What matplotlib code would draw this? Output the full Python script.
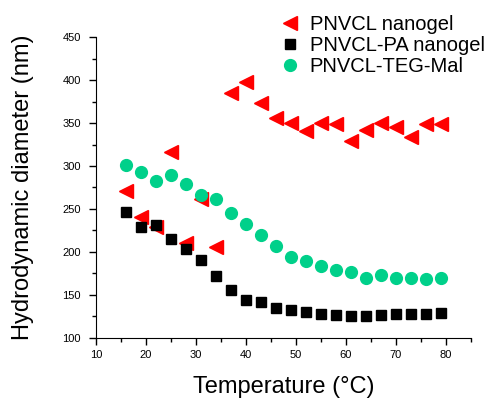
import matplotlib
matplotlib.use("Agg")
import matplotlib.pyplot as plt
from matplotlib.ticker import MultipleLocator

plt.rcParams['font.family'] = ['Liberation Sans', 'DejaVu Sans']

temperature = [16, 19, 22, 25, 28, 31, 34, 37, 40, 43, 46, 49, 52, 55, 58, 61, 64, 67, 70, 73, 76, 79]
pnvcl = [271, 241, 229, 316, 211, 262, 206, 385, 398, 373, 356, 350, 341, 350, 349, 329, 342, 350, 345, 334, 349, 349]
pnvcl_pa = [247, 229, 231, 215, 203, 191, 172, 156, 144, 142, 135, 132, 130, 128, 127, 126, 126, 127, 127.5, 127.5, 127.5, 129]
pnvcl_teg = [301, 293, 283, 289, 279, 266, 262, 245, 233, 220, 207, 194, 190, 184, 179, 177, 170, 173, 170, 170, 169, 170]
labels = ["PNVCL nanogel", "PNVCL-PA nanogel", "PNVCL-TEG-Mal"]

fig = plt.figure(figsize=(4.91, 3.98), dpi=100)
ax = fig.add_axes([0.1955, 0.1508, 0.7635, 0.7562])

ax.plot(temperature, pnvcl, linestyle='none', marker='<', color='#ff0000', markersize=10, label=labels[0])
ax.plot(temperature, pnvcl_pa, linestyle='none', marker='s', color='black', markersize=7.5, label=labels[1])
ax.plot(temperature, pnvcl_teg, linestyle='none', marker='o', color='#00d08a', markersize=8.5, label=labels[2])

ax.set_xlim(10, 85)
ax.set_ylim(100, 450)
ax.xaxis.set_major_locator(MultipleLocator(10))
ax.xaxis.set_minor_locator(MultipleLocator(5))
ax.yaxis.set_major_locator(MultipleLocator(50))
ax.yaxis.set_minor_locator(MultipleLocator(25))
ax.spines['top'].set_visible(False)
ax.spines['right'].set_visible(False)
ax.tick_params(which='major', direction='out', length=5, width=1, labelsize=8)
ax.tick_params(axis='y', which='major', pad=6)
ax.tick_params(which='minor', direction='out', length=3, width=1)

ax.set_xlabel("Temperature (°C)", fontsize=17, labelpad=12)
ax.set_ylabel("Hydrodynamic diameter (nm)", fontsize=17, labelpad=20)

fig.legend(loc='upper left', bbox_to_anchor=(0.553, 0.982), frameon=False, fontsize=14.5,
           handlelength=1.0, handletextpad=0.5, labelspacing=0.1, borderaxespad=0)

fig.savefig("out.png", dpi=100)
